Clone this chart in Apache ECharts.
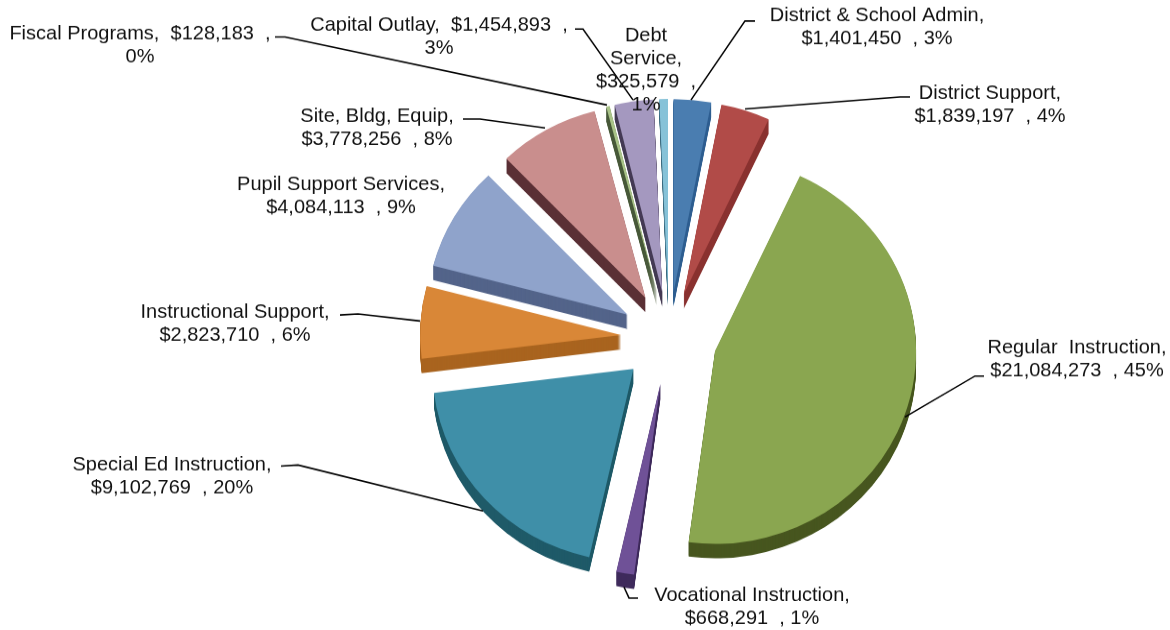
<!DOCTYPE html>
<html>
<head>
<meta charset="utf-8">
<style>
html,body{margin:0;padding:0;background:#fff;overflow:hidden}
/* The pie is tilted: the chart surface is flattened vertically and its text is scaled back up */
#chart{width:1170px;height:657px;transform:scaleY(0.96);transform-origin:0 0}
</style>
<script src="https://cdn.jsdelivr.net/npm/echarts@6/dist/echarts.min.js"></script>
</head>
<body>
<div id="chart"></div>
<script>
// Budget by program, clockwise from Regular Instruction
const programs = ['Regular Instruction', 'Vocational Instruction', 'Special Ed Instruction', 'Instructional Support',
  'Pupil Support Services', 'Site, Bldg, Equip', 'Fiscal Programs', 'Capital Outlay', 'Debt Service',
  'District & School Admin', 'District Support'];
const amounts = [21084273, 668291, 9102769, 2823710, 4084113, 3778256, 128183, 1454893, 325579, 1401450, 1839197];
const percents = [45, 1, 20, 6, 9, 8, 0, 3, 1, 3, 4];

// Label wording, with the line breaks each label uses
const labelTemplates = [
  'Regular  Instruction,\n{v}  , {p}%',
  'Vocational Instruction,\n{v}  , {p}%',
  'Special Ed Instruction,\n{v}  , {p}%',
  'Instructional Support,\n{v}  , {p}%',
  'Pupil Support Services,\n{v}  , {p}%',
  'Site, Bldg, Equip,\n{v}  , {p}%',
  'Fiscal Programs,  {v}  ,\n{p}%',
  'Capital Outlay,  {v}  ,\n{p}%',
  'Debt\nService,\n{v}  ,\n{p}%',
  'District & School Admin,\n{v}  , {p}%',
  'District Support,\n{v}  , {p}%'
];

const topColors = ['#8aa650', '#6f5197', '#3f8fa8', '#d98737', '#8fa3cb', '#c98e8d', '#a9c388', '#a498bf', '#86c2d8', '#4a7db0', '#b14b48'];
const sideColors = ['#47561f', '#3f2b5c', '#1f5a68', '#a9641f', '#53648a', '#5a3035', '#48593a', '#443b54', '#3e6d80', '#2f5f90', '#8a3230'];

// Label anchors: centre x, centre y of the text block
const labelAnchors = [
  [1077, 359], [752, 607], [172, 476], [235, 324], [341, 196], [377, 128],
  [140, 45], [439, 37], [646, 70], [877, 27], [990, 105]
];

// Leader lines running from the labels to their slices
const leaders = [
  [[984, 376], [975, 376], [905, 417]],
  [[638, 598], [629, 598], [624, 587]],
  [[281, 466], [298, 465], [483, 511]],
  [[340, 315], [358, 314], [420, 321]],
  [[463, 119], [480, 119], [545, 128]],
  [[275, 37], [285, 37], [607, 105]],
  [[575, 29], [583, 29], [633, 100]],
  [[755, 21], [745, 21], [691, 100]],
  [[745, 109], [900, 97], [910, 97]]
];

const tilt = 0.96;
const pieCenter = [669, 338 / tilt];
const pieRadius = 201;
const explode = 48;
const depth = 15;
const startAngle = 65;

function money(v) {
  return '$' + v.toLocaleString('en-US');
}

function labelText(i) {
  return labelTemplates[i].replace('{v}', money(amounts[i])).replace('{p}', percents[i]);
}

// One exploded pie for a given vertical offset; the stack of them forms the side walls
function layer(offsetY, colors) {
  return {
    type: 'pie',
    silent: true,
    animation: false,
    center: [pieCenter[0], pieCenter[1] + offsetY],
    radius: [0, pieRadius],
    startAngle: startAngle,
    clockwise: true,
    selectedMode: 'multiple',
    selectedOffset: explode,
    avoidLabelOverlap: false,
    emphasis: { disabled: true },
    data: amounts.map((v, i) => ({
      name: programs[i],
      value: v,
      selected: true,
      itemStyle: { color: colors[i] },
      select: { itemStyle: { color: colors[i] } }
    })),
    label: { show: false },
    labelLine: { show: false }
  };
}

const series = [];
for (let d = depth; d >= 1; d--) {
  series.push(layer(d, sideColors));
}
series.push(layer(0, topColors));

const leaderShapes = leaders.map(points => ({
  type: 'polyline',
  silent: true,
  z: 100,
  shape: { points: points },
  style: { stroke: '#000', lineWidth: 1.5, fill: null }
}));

const labelShapes = programs.map((name, i) => ({
  type: 'text',
  silent: true,
  z: 101,
  x: labelAnchors[i][0],
  y: labelAnchors[i][1],
  style: {
    text: labelText(i),
    align: 'center',
    verticalAlign: 'middle',
    fill: '#111',
    font: '20px "Liberation Sans", Arial, sans-serif',
    lineHeight: 23
  }
}));

const chart = echarts.init(document.getElementById('chart'), null, { renderer: 'canvas' });
chart.setOption({
  backgroundColor: '#fff',
  animation: false,
  series: series,
  graphic: [{
    type: 'group',
    z: 100,
    x: 0,
    y: 0,
    scaleY: 1 / tilt,
    children: leaderShapes.concat(labelShapes)
  }]
});
</script>
</body>
</html>
